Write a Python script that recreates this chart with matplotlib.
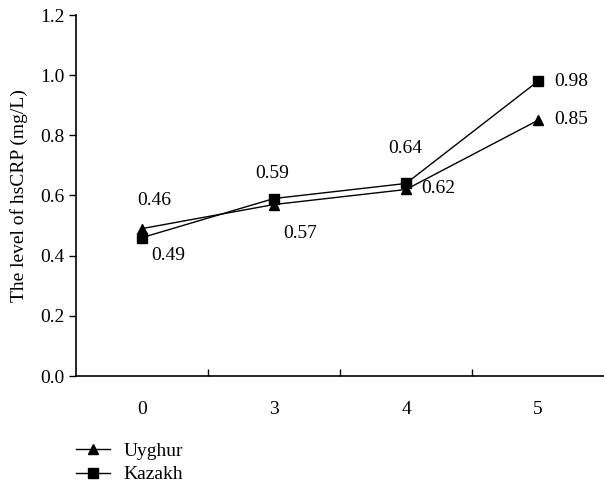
import matplotlib
matplotlib.use("Agg")
import matplotlib.pyplot as plt

categories = ["0", "3", "4", "5"]
uyghur = [0.49, 0.57, 0.62, 0.85]
kazakh = [0.46, 0.59, 0.64, 0.98]
# label texts as printed on the chart
uyghur_labels = ["0.49", "0.57", "0.62", "0.85"]
kazakh_labels = ["0.46", "0.59", "0.64", "0.98"]
y_ticks = [0.0, 0.2, 0.4, 0.6, 0.8, 1.0, 1.2]

plt.rcParams["font.family"] = ["Liberation Serif", "DejaVu Serif"]
FS = 14

fig = plt.figure(figsize=(6.04, 4.86), dpi=100)
ax = fig.add_axes([76/604, 1-376/486, 1-76/604, (376-15)/486])

x = list(range(len(categories)))
l1, = ax.plot(x, uyghur, color="black", lw=1.0, marker="^", ms=7.5, label="Uyghur")
l2, = ax.plot(x, kazakh, color="black", lw=1.0, marker="s", ms=7, label="Kazakh")

# label offsets (pixels): dx, dy (up positive)
u_off = [(26, -27), (26, -29), (32, 1), (33, 1)]
k_off = [(12, 37), (-2, 25), (-1, 35), (33, 0)]
for xi, v, t, (dx, dy) in zip(x, uyghur, uyghur_labels, u_off):
    ax.annotate(t, (xi, v), xytext=(dx, dy), textcoords="offset pixels",
                ha="center", va="center", fontsize=FS)
for xi, v, t, (dx, dy) in zip(x, kazakh, kazakh_labels, k_off):
    ax.annotate(t, (xi, v), xytext=(dx, dy), textcoords="offset pixels",
                ha="center", va="center", fontsize=FS)

ax.set_xlim(-0.5, len(categories) - 0.5)
ax.set_ylim(0, 1.2)
ax.set_yticks(y_ticks)
ax.set_yticklabels([f"{t:.1f}" for t in y_ticks], fontsize=FS)
ax.set_xticks(x)
ax.set_xticklabels(categories, fontsize=FS)
ax.tick_params(axis="x", length=0, pad=18)
ax.set_xticks([i + 0.5 for i in x[:-1]], minor=True)
ax.tick_params(axis="x", which="minor", direction="in", length=5, width=1)
ax.tick_params(axis="y", direction="out", length=5, width=1, pad=3)
ax.spines["top"].set_visible(False)
ax.spines["right"].set_visible(False)
ax.spines["left"].set_linewidth(1.2)
ax.spines["bottom"].set_linewidth(1.2)
ax.set_ylabel("The level of hsCRP (mg/L)", fontsize=FS, labelpad=9)

fig.legend(handles=[l1, l2], loc="upper left", bbox_to_anchor=(76/604, 1-442/486),
           frameon=False, fontsize=FS, handlelength=1.75, handletextpad=0.7,
           labelspacing=0.32, borderpad=0, borderaxespad=0)

fig.savefig("out.png", dpi=100)
